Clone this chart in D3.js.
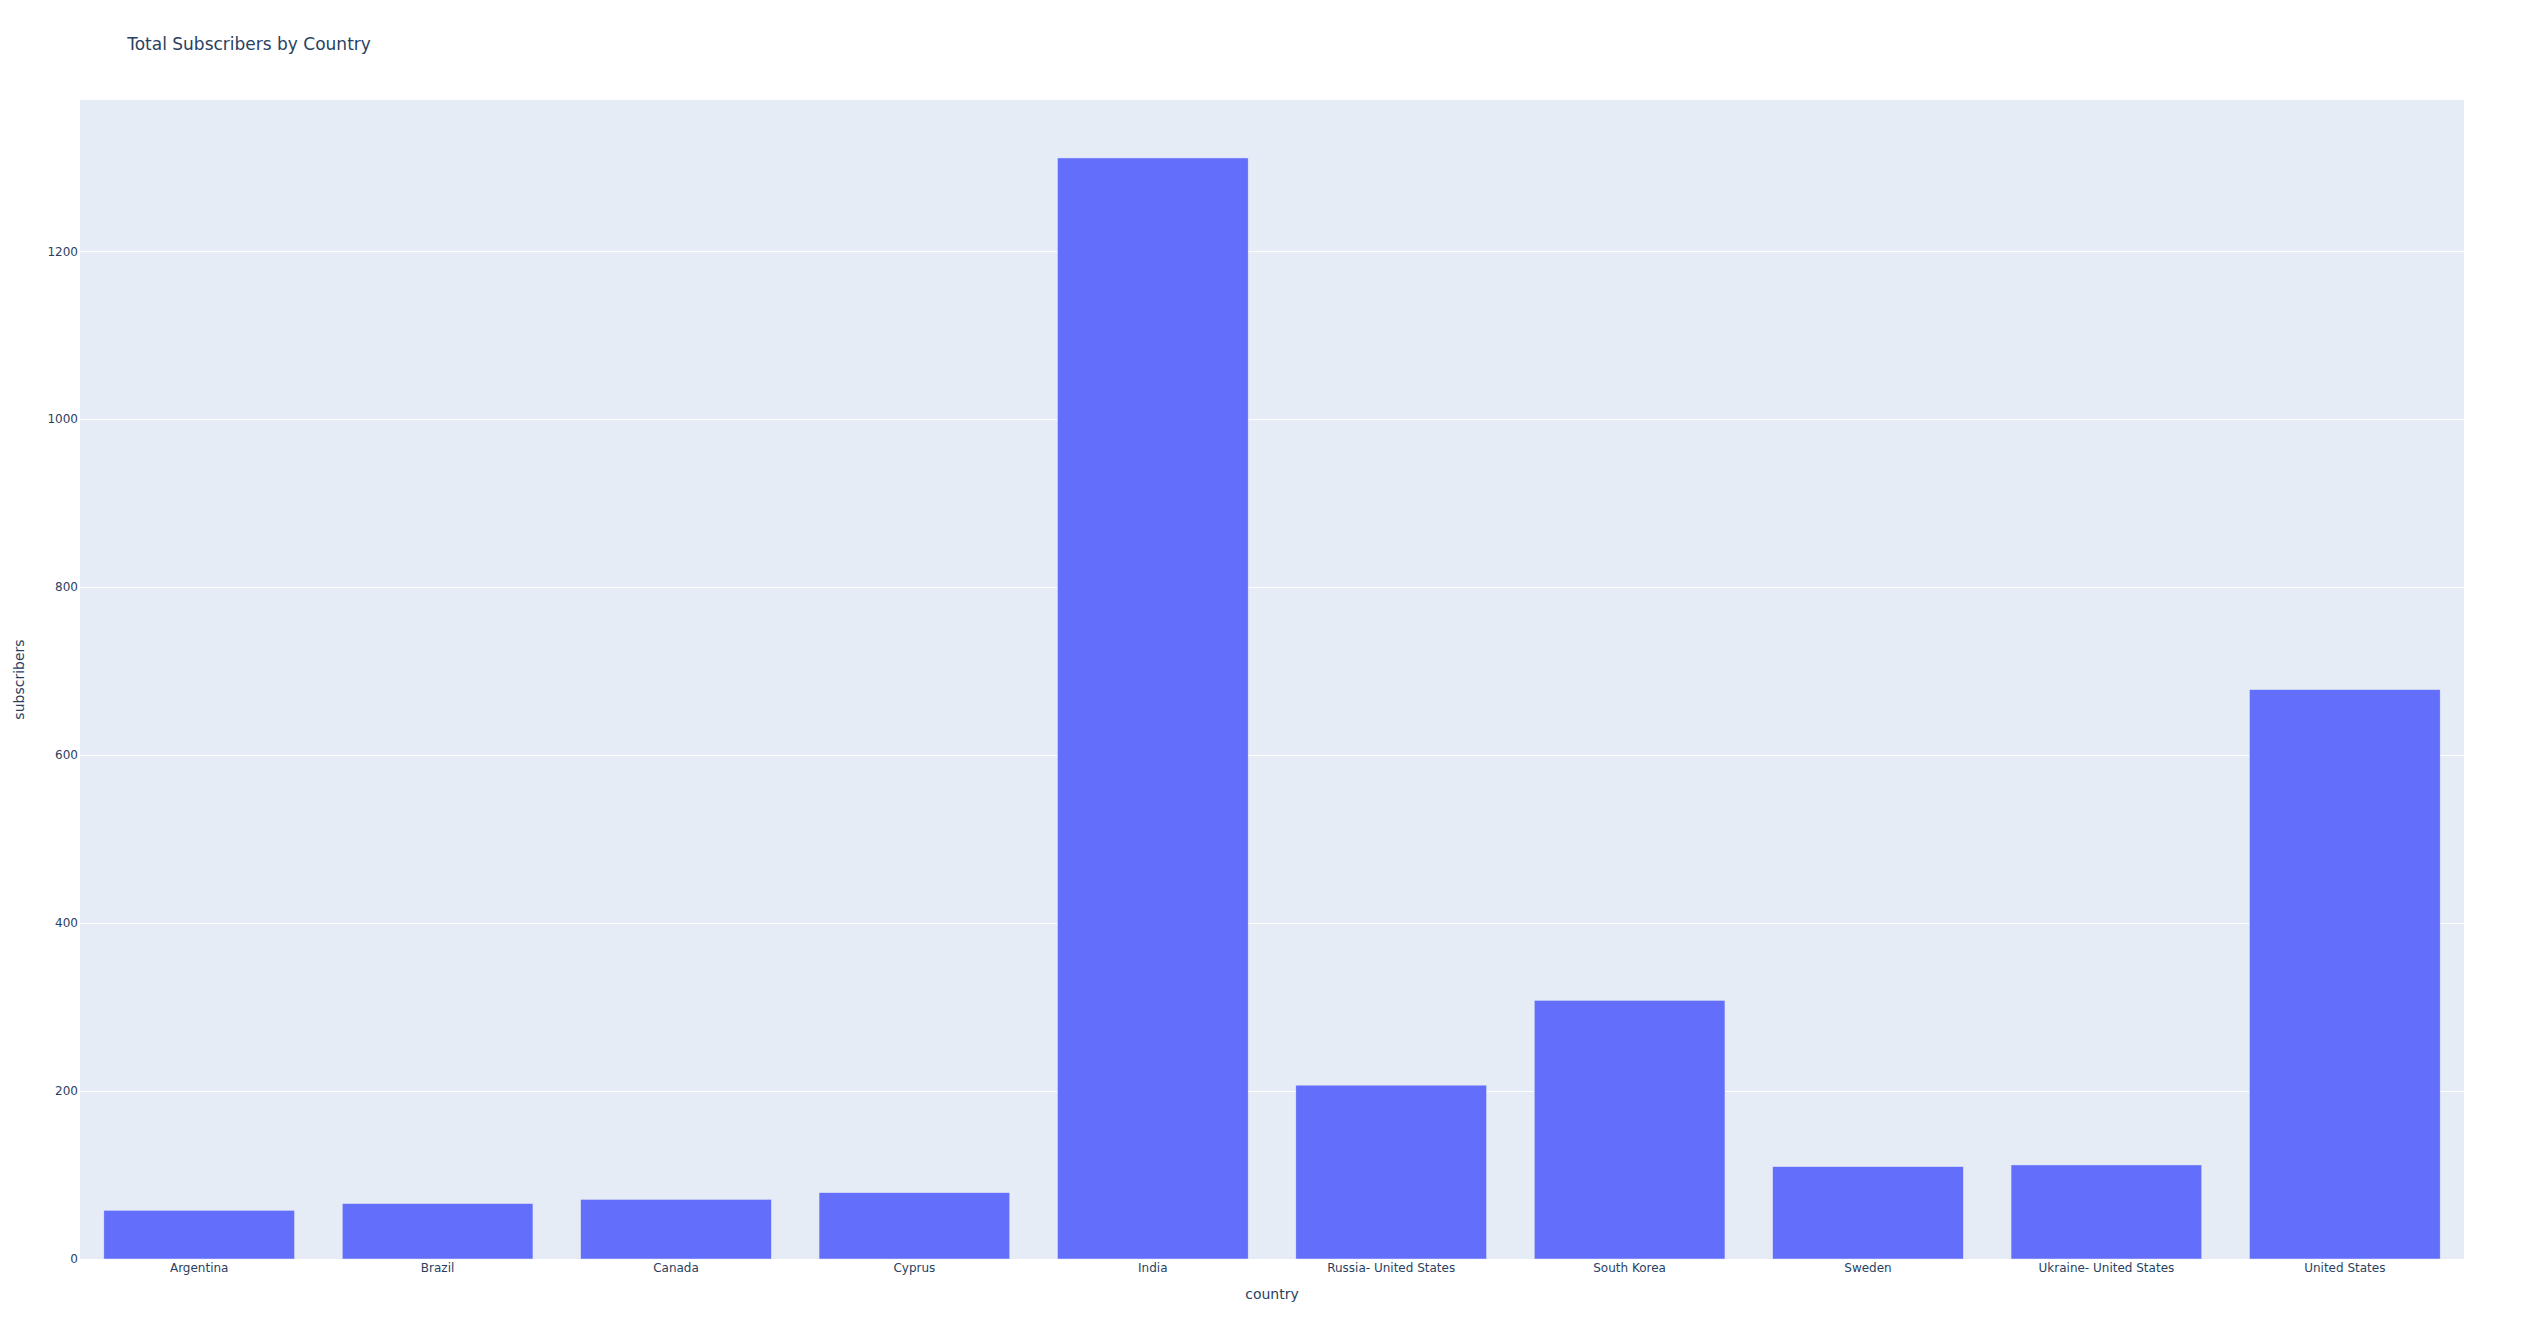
<!DOCTYPE html>
<html>
<head>
<meta charset="utf-8">
<script src="https://cdn.jsdelivr.net/npm/d3@7"></script>
<style>
  html, body { margin: 0; padding: 0; background: #fff; }
  svg { display: block; }
  text { font-family: "DejaVu Sans", Verdana, sans-serif; fill: #2a3f5f; }
</style>
</head>
<body>
<svg id="chart"></svg>
<script>
const countries = ["Argentina", "Brazil", "Canada", "Cyprus", "India", "Russia- United States", "South Korea", "Sweden", "Ukraine- United States", "United States"];
const subscribers = [58, 66, 71, 79, 1311, 207, 308, 110, 112, 678];
const yTicks = [0, 200, 400, 600, 800, 1000, 1200];
const titleText = "Total Subscribers by Country";
const xTitle = "country";
const yTitle = "subscribers";

const W = 2544, H = 1339;
const margin = { l: 80, r: 80, t: 100, b: 80 };
const pw = W - margin.l - margin.r, ph = H - margin.t - margin.b;

const svg = d3.select("#chart").attr("width", W).attr("height", H);

svg.append("rect").attr("x", margin.l).attr("y", margin.t)
  .attr("width", pw).attr("height", ph).attr("fill", "#E5ECF6");

const x = d3.scaleBand().domain(countries).range([margin.l, margin.l + pw]).paddingInner(0.2).paddingOuter(0.1);
const yMax = d3.max(subscribers) / 0.95;
const y = d3.scaleLinear().domain([0, yMax]).range([margin.t + ph, margin.t]);

// gridlines
const gy = svg.append("g").attr("transform", `translate(${margin.l},0)`)
  .call(d3.axisLeft(y).tickValues(yTicks).tickSize(-pw).tickFormat(""));
gy.select(".domain").remove();
gy.selectAll(".tick line").attr("stroke", "#fff").attr("stroke-width", 1);
gy.selectAll(".tick").filter(d => d === 0).remove();

// bars
const data = countries.map((c, i) => ({ c, v: subscribers[i] }));
svg.append("g").selectAll("rect").data(data).join("rect")
  .attr("x", d => x(d.c))
  .attr("width", x.bandwidth())
  .attr("y", d => y(d.v))
  .attr("height", d => y(0) - y(d.v))
  .attr("fill", "#636efa")
  .attr("stroke", "#E5ECF6")
  .attr("stroke-width", 0.5);

// y axis labels
const ya = svg.append("g").attr("transform", `translate(${margin.l},0)`)
  .call(d3.axisLeft(y).tickValues(yTicks).tickSize(0).tickPadding(2).tickFormat(d3.format("d")));
ya.select(".domain").remove();
ya.selectAll("text").attr("font-size", 12).style("font-family", '"DejaVu Sans", Verdana, sans-serif').attr("fill", "#2a3f5f");

// x axis labels
const xa = svg.append("g").attr("transform", `translate(0,${margin.t + ph})`)
  .call(d3.axisBottom(x).tickSize(0).tickPadding(4));
xa.select(".domain").remove();
xa.selectAll("text").attr("font-size", 12).style("font-family", '"DejaVu Sans", Verdana, sans-serif').attr("fill", "#2a3f5f");

// titles
svg.append("text").attr("x", W * 0.05).attr("y", 50)
  .attr("font-size", 17).text(titleText);

svg.append("text").attr("x", margin.l + pw / 2).attr("y", 1299)
  .attr("text-anchor", "middle").attr("font-size", 14).text(xTitle);

svg.append("text")
  .attr("transform", `translate(24,${margin.t + ph / 2}) rotate(-90)`)
  .attr("text-anchor", "middle").attr("font-size", 14).text(yTitle);
</script>
</body>
</html>
